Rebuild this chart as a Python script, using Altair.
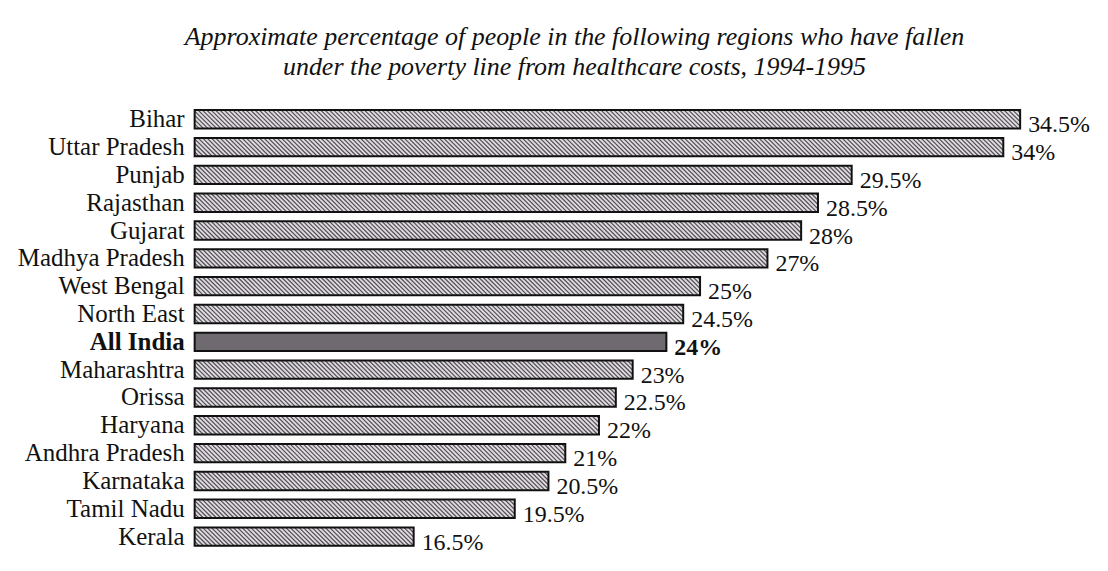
import math
import altair as alt
import pandas as pd

regions = ["Bihar", "Uttar Pradesh", "Punjab", "Rajasthan", "Gujarat",
           "Madhya Pradesh", "West Bengal", "North East", "All India",
           "Maharashtra", "Orissa", "Haryana", "Andhra Pradesh", "Karnataka",
           "Tamil Nadu", "Kerala"]
values = [34.5, 34, 29.5, 28.5, 28, 27, 25, 24.5, 24, 23, 22.5, 22, 21, 20.5, 19.5, 16.5]
value_labels = ["34.5%", "34%", "29.5%", "28.5%", "28%", "27%", "25%", "24.5%", "24%",
                "23%", "22.5%", "22%", "21%", "20.5%", "19.5%", "16.5%"]
highlighted = ["All India"]
title_lines = ["Approximate percentage of people in the following regions who have fallen",
               "under the poverty line from healthcare costs, 1994-1995"]

# scale / style constants
BASE = 10.0
X_MAX = 34.5
PITCH = 0.13   # hatch spacing in x units
RUN = 0.55     # horizontal run of one hatch line
HALF = 0.33    # half bar thickness in row units
FONT = "Liberation Serif"

df = pd.DataFrame({"region": regions, "value": values, "label": value_labels})
df["idx"] = list(range(len(regions)))
df["hl"] = df["region"].isin(highlighted)

# hatch segments derived from the values (clipped to each bar)
rows = []
for i, (reg, v) in enumerate(zip(regions, values)):
    if reg in highlighted:
        continue
    n = int(math.ceil((v - BASE + RUN) / PITCH)) + 1
    for k in range(n + 1):
        s = BASE - RUN + k * PITCH
        t0 = max(0.0, (BASE - s) / RUN)
        t1 = min(1.0, (v - s) / RUN)
        if t1 <= t0:
            continue
        rows.append({"xa": s + t0 * RUN, "xb": s + t1 * RUN,
                     "ya": i - HALF + t0 * 2 * HALF, "yb": i - HALF + t1 * 2 * HALF})
hatch = pd.DataFrame(rows)

xs = alt.Scale(domain=[BASE, X_MAX], zero=False, nice=False)
ys = alt.Scale(domain=[-0.5, len(regions) - 0.5], reverse=True, zero=False, nice=False)

base = alt.Chart(df).transform_calculate(
    b=f"{BASE}", y0=f"datum.idx - {HALF}", y1=f"datum.idx + {HALF}"
)

fill_hatched = base.transform_filter("!datum.hl").mark_bar(color="#e0dae1").encode(
    x=alt.X("value:Q", scale=xs, axis=None),
    x2="b:Q",
    y=alt.Y("y0:Q", scale=ys, axis=None),
    y2="y1:Q",
)
fill_dark = base.transform_filter("datum.hl").mark_bar(color="#6e6a70").encode(
    x=alt.X("value:Q", scale=xs, axis=None),
    x2="b:Q",
    y=alt.Y("y0:Q", scale=ys, axis=None),
    y2="y1:Q",
)

stripes = alt.Chart(hatch).mark_rule(color="#514e53", strokeWidth=1.2).encode(
    x=alt.X("xa:Q", scale=xs, axis=None),
    x2="xb:Q",
    y=alt.Y("ya:Q", scale=ys, axis=None),
    y2="yb:Q",
)

outline = base.mark_bar(fillOpacity=0, stroke="#111111", strokeWidth=2).encode(
    x=alt.X("value:Q", scale=xs, axis=None),
    x2="b:Q",
    y=alt.Y("y0:Q", scale=ys, axis=None),
    y2="y1:Q",
)


def name_layer(bold):
    flt = "datum.hl" if bold else "!datum.hl"
    return base.transform_filter(flt).mark_text(
        align="right", baseline="middle", dx=-10, font=FONT, fontSize=25,
        fontWeight="bold" if bold else "normal", color="#111111",
    ).encode(
        x=alt.X("b:Q", scale=xs, axis=None),
        y=alt.Y("idx:Q", scale=ys, axis=None),
        text="region:N",
    )


def value_layer(bold):
    flt = "datum.hl" if bold else "!datum.hl"
    return base.transform_filter(flt).mark_text(
        align="left", baseline="middle", dx=8, dy=6, font=FONT, fontSize=24,
        fontWeight="bold" if bold else "normal", color="#111111",
    ).encode(
        x=alt.X("value:Q", scale=xs, axis=None),
        y=alt.Y("idx:Q", scale=ys, axis=None),
        text="label:N",
    )


chart = (
    alt.layer(fill_hatched, fill_dark, stripes, outline,
              name_layer(False), name_layer(True),
              value_layer(False), value_layer(True))
    .properties(
        width=827,
        height=446,
        background="white",
        padding={"left": 187, "top": 97, "right": 80, "bottom": 8},
        autosize=alt.AutoSizeParams(type="none"),
        title=alt.TitleParams(
            text=title_lines,
            font=FONT,
            fontSize=26,
            fontStyle="italic",
            fontWeight="normal",
            lineHeight=30,
            anchor="middle",
            dx=-33,
            offset=25,
            color="#111111",
        ),
    )
    .configure_view(strokeWidth=0, stroke="transparent")
)

chart.save("out.html", embed_options={"renderer": "svg", "actions": False})
